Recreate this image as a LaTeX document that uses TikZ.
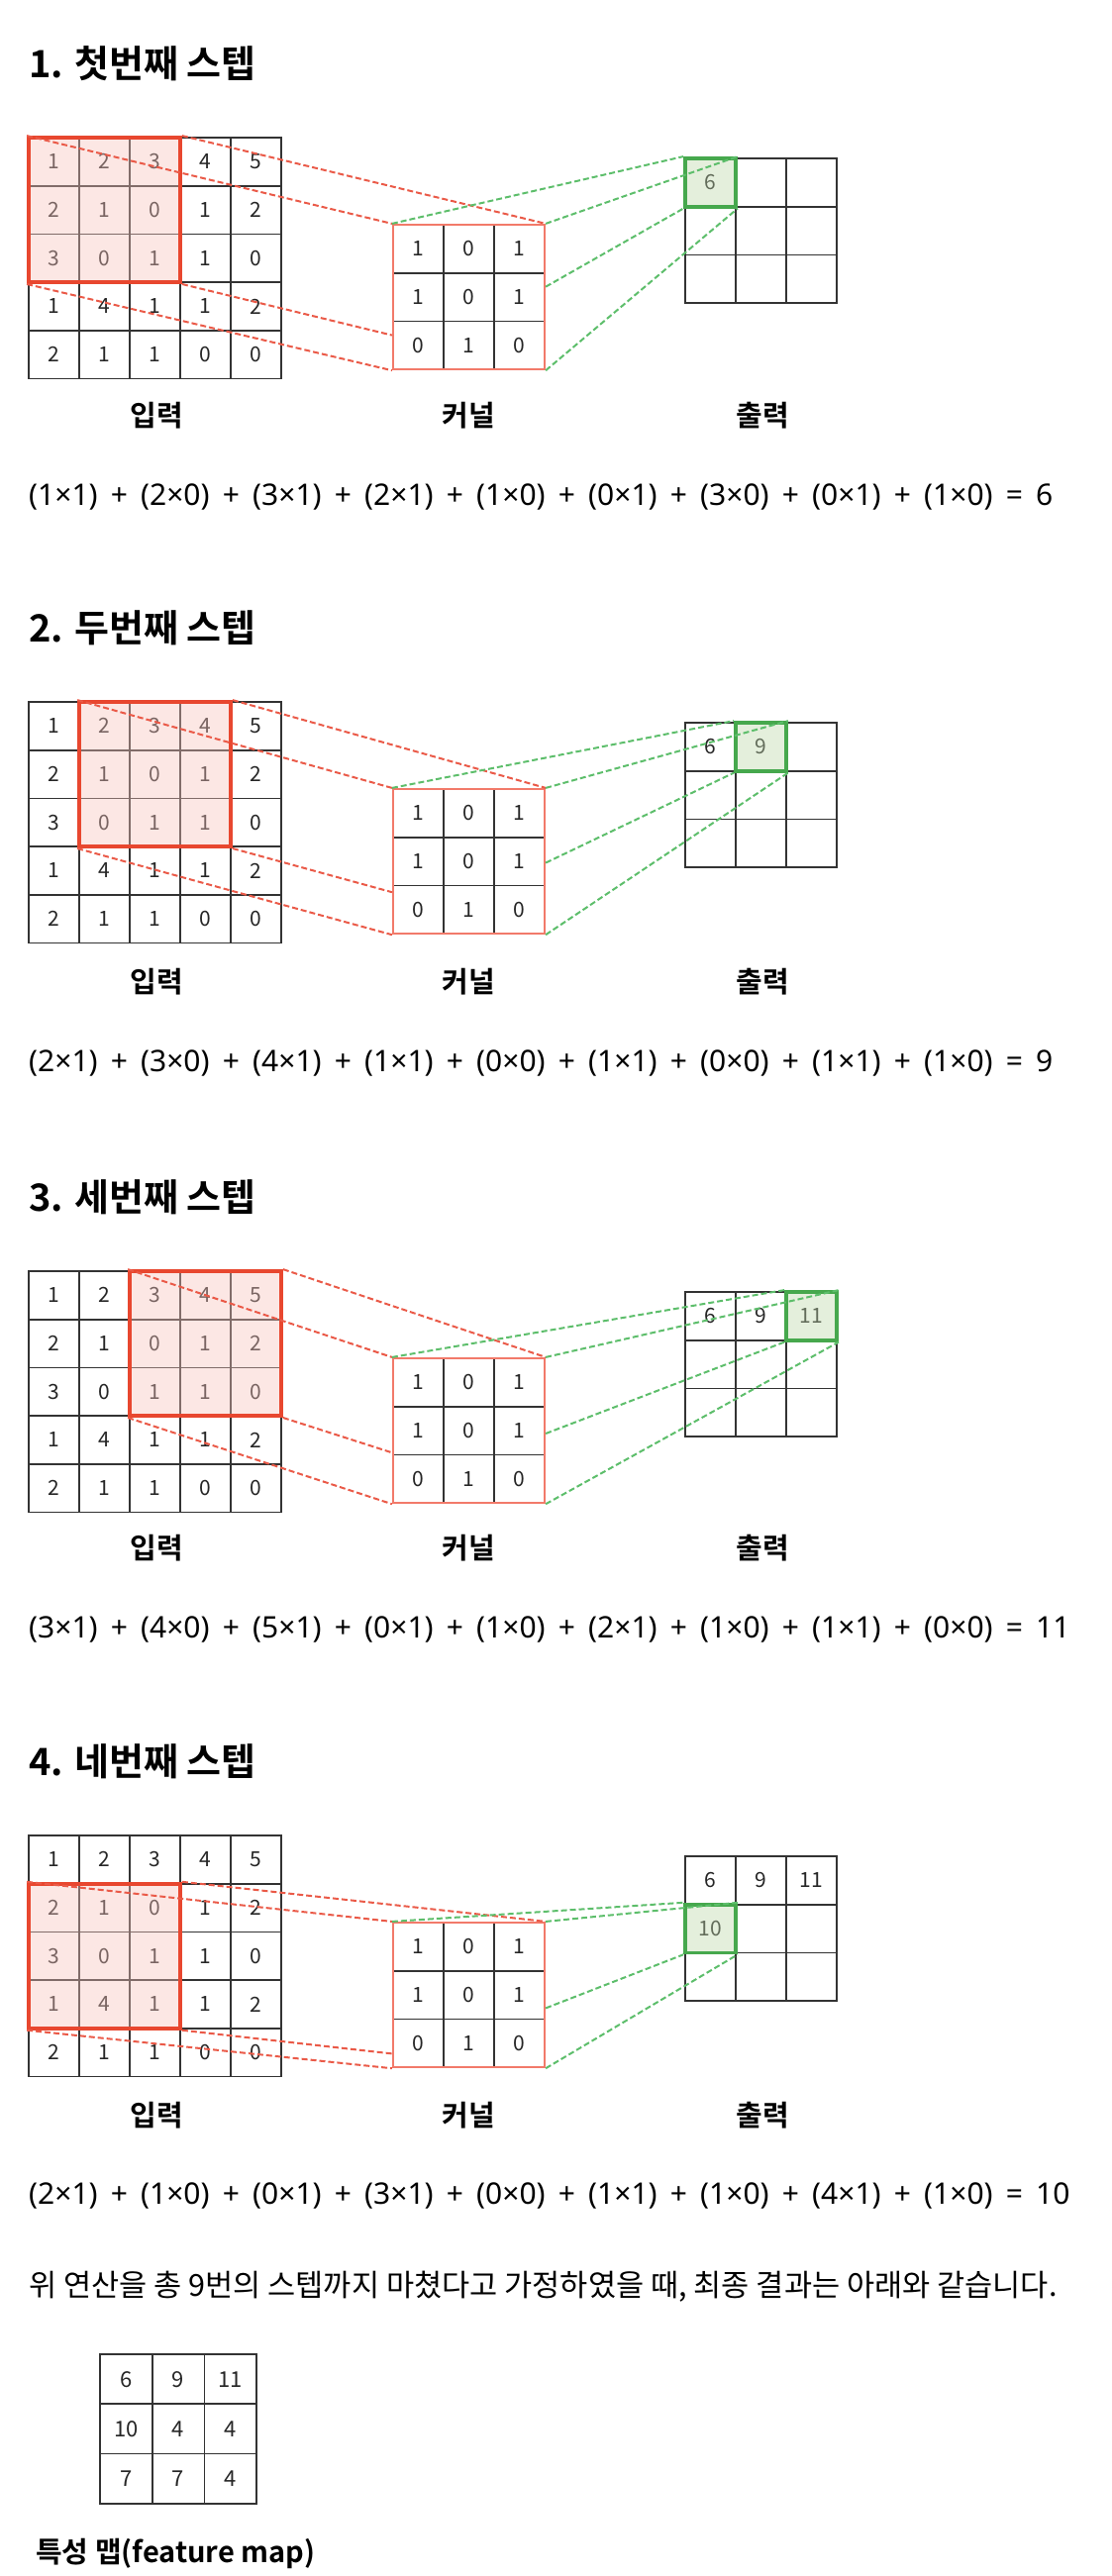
\documentclass[tikz,border=0pt]{standalone}
\usepackage{fontspec}
\setmainfont{Noto Sans CJK KR}[BoldFont={Noto Sans CJK KR Bold}]
\newfontfamily\eqfont{Noto Sans}[WordSpace=1.69]
\usetikzlibrary{calc,fit}

\definecolor{gridline}{HTML}{333333}
\definecolor{hlred}{HTML}{E8472F}
\definecolor{hlredfill}{HTML}{F7C3BC}
\definecolor{dashred}{HTML}{EA5A48}
\definecolor{kernred}{HTML}{F27A6A}
\definecolor{hlgreen}{HTML}{46A84D}
\definecolor{hlgreenfill}{HTML}{BCD6A8}
\definecolor{dashgreen}{HTML}{5DBE6B}

% 5x5 input, 3x3 kernel, empty 3x3 output
\newcommand{\inputgrid}[1]{%
  \foreach \v [count=\i from 0] in {1,2,3,4,5,2,1,0,1,2,3,0,1,1,0,1,4,1,1,2,2,1,1,0,0}{%
    \pgfmathtruncatemacro{\cc}{mod(\i,5)}%
    \pgfmathtruncatemacro{\rr}{div(\i,5)}%
    \node[cell] (#1in-\rr-\cc) at ({54.5+51*\cc},{24.35+48.7*\rr}) {\v};
  }%
}
\newcommand{\kernelgrid}[1]{%
  \foreach \v [count=\i from 0] in {1,0,1,1,0,1,0,1,0}{%
    \pgfmathtruncatemacro{\cc}{mod(\i,3)}%
    \pgfmathtruncatemacro{\rr}{div(\i,3)}%
    \node[cell] (#1kc-\rr-\cc) at ({422.5+51*\cc},{112.35+48.7*\rr}) {\v};
  }%
  \node[kernbox, fit=(#1kc-0-0)(#1kc-2-2)] (#1k) {};
}
\newcommand{\outputgrid}[1]{%
  \foreach \rr in {0,1,2}{%
    \foreach \cc in {0,1,2}{%
      \node[cell] (#1out-\rr-\cc) at ({717.5+51*\cc},{45.35+48.7*\rr}) {};
    }%
  }%
}

\begin{document}
\begin{tikzpicture}[x=1pt, y=-1pt,
    cell/.style={draw=gridline, line width=1.7pt, minimum width=51pt, minimum height=48.7pt,
      inner sep=0pt, outer sep=0pt, font=\fontsize{21}{25}\selectfont, text=black!85},
    val/.style={inner sep=0pt, font=\fontsize{21}{25}\selectfont, text=black!85},
    redbox/.style={draw=hlred, line width=3.8pt, fill=hlredfill, fill opacity=0.4, inner sep=0pt},
    greenbox/.style={draw=hlgreen, line width=3.8pt, fill=hlgreenfill, fill opacity=0.4, inner sep=0pt},
    kernbox/.style={draw=kernred, line width=2.2pt, inner sep=0pt},
    reddash/.style={draw=dashred, line width=2pt, dash pattern=on 6pt off 3pt},
    greendash/.style={draw=dashgreen, line width=2pt, dash pattern=on 6pt off 3pt},
    steptitle/.style={anchor=west, inner sep=0pt, font=\fontsize{38}{44}\selectfont\bfseries},
    gridname/.style={inner sep=0pt, font=\fontsize{29}{34}\selectfont\bfseries},
    eqtext/.style={anchor=west, inner sep=0pt, font=\eqfont\fontsize{30}{36}\selectfont},
    bodytext/.style={anchor=west, inner sep=0pt, font=\fontsize{30.6}{36}\selectfont}]
  \useasboundingbox (0,0) rectangle (1122,2602);

  % step 1
  \begin{scope}[shift={(0,139)}]
    \node[steptitle] (s1title) at (29,-75) {1. 첫번째 스텝};
    \inputgrid{s1}
    \outputgrid{s1}
    \node[val] (s1v1) at (s1out-0-0) {6};
    \node[redbox, fit=(s1in-0-0)(s1in-2-2)] (s1hl) {};
    \node[greenbox, fit=(s1out-0-0)] (s1oc) {};
    \kernelgrid{s1}
    \coordinate (s1kl) at ($(s1k.north west)!0.76!(s1k.south west)$);
    \coordinate (s1kr) at ($(s1k.north east)!0.43!(s1k.south east)$);
    \path[reddash] (s1hl.north west) edge (s1k.north west)
      (s1hl.north east) edge (s1k.north east)
      (s1hl.south west) edge (s1k.south west)
      (s1hl.south east) edge (s1kl);
    \path[greendash] (s1k.north west) edge (s1oc.north west)
      (s1k.north east) edge (s1oc.north east)
      (s1kr) edge (s1oc.south west)
      (s1k.south east) edge (s1oc.south east);
    \node[gridname] (s1nin) at (158,281) {입력};
    \node[gridname] (s1nk) at (473.5,281) {커널};
    \node[gridname] (s1nout) at (770,281) {출력};
    \node[eqtext] (s1eq) at (29,363) {(1×1) + (2×0) + (3×1) + (2×1) + (1×0) + (0×1) + (3×0) + (0×1) + (1×0) = 6};
  \end{scope}

  % step 2
  \begin{scope}[shift={(0,709)}]
    \node[steptitle] (s2title) at (29,-75) {2. 두번째 스텝};
    \inputgrid{s2}
    \outputgrid{s2}
    \node[val] (s2v1) at (s2out-0-0) {6};
    \node[val] (s2v2) at (s2out-0-1) {9};
    \node[redbox, fit=(s2in-0-1)(s2in-2-3)] (s2hl) {};
    \node[greenbox, fit=(s2out-0-1)] (s2oc) {};
    \kernelgrid{s2}
    \coordinate (s2kl) at ($(s2k.north west)!0.71!(s2k.south west)$);
    \coordinate (s2kr) at ($(s2k.north east)!0.51!(s2k.south east)$);
    \path[reddash] (s2hl.north west) edge (s2k.north west)
      (s2hl.north east) edge (s2k.north east)
      (s2hl.south west) edge (s2k.south west)
      (s2hl.south east) edge (s2kl);
    \path[greendash] (s2k.north west) edge (s2oc.north west)
      (s2k.north east) edge (s2oc.north east)
      (s2kr) edge (s2oc.south west)
      (s2k.south east) edge (s2oc.south east);
    \node[gridname] (s2nin) at (158,283) {입력};
    \node[gridname] (s2nk) at (473.5,283) {커널};
    \node[gridname] (s2nout) at (770,283) {출력};
    \node[eqtext] (s2eq) at (29,365) {(2×1) + (3×0) + (4×1) + (1×1) + (0×0) + (1×1) + (0×0) + (1×1) + (1×0) = 9};
  \end{scope}

  % step 3
  \begin{scope}[shift={(0,1284)}]
    \node[steptitle] (s3title) at (29,-75) {3. 세번째 스텝};
    \inputgrid{s3}
    \outputgrid{s3}
    \node[val] (s3v1) at (s3out-0-0) {6};
    \node[val] (s3v2) at (s3out-0-1) {9};
    \node[val] (s3v3) at (s3out-0-2) {11};
    \node[redbox, fit=(s3in-0-2)(s3in-2-4)] (s3hl) {};
    \node[greenbox, fit=(s3out-0-2)] (s3oc) {};
    \kernelgrid{s3}
    \coordinate (s3kl) at ($(s3k.north west)!0.65!(s3k.south west)$);
    \coordinate (s3kr) at ($(s3k.north east)!0.52!(s3k.south east)$);
    \path[reddash] (s3hl.north west) edge (s3k.north west)
      (s3hl.north east) edge (s3k.north east)
      (s3hl.south west) edge (s3k.south west)
      (s3hl.south east) edge (s3kl);
    \path[greendash] (s3k.north west) edge (s3oc.north west)
      (s3k.north east) edge (s3oc.north east)
      (s3kr) edge (s3oc.south west)
      (s3k.south east) edge (s3oc.south east);
    \node[gridname] (s3nin) at (158,280) {입력};
    \node[gridname] (s3nk) at (473.5,280) {커널};
    \node[gridname] (s3nout) at (770,280) {출력};
    \node[eqtext] (s3eq) at (29,362) {(3×1) + (4×0) + (5×1) + (0×1) + (1×0) + (2×1) + (1×0) + (1×1) + (0×0) = 11};
  \end{scope}

  % step 4
  \begin{scope}[shift={(0,1854)}]
    \node[steptitle] (s4title) at (29,-75) {4. 네번째 스텝};
    \inputgrid{s4}
    \outputgrid{s4}
    \node[val] (s4v1) at (s4out-0-0) {6};
    \node[val] (s4v2) at (s4out-0-1) {9};
    \node[val] (s4v3) at (s4out-0-2) {11};
    \node[val] (s4v4) at (s4out-1-0) {10};
    \node[redbox, fit=(s4in-1-0)(s4in-3-2)] (s4hl) {};
    \node[greenbox, fit=(s4out-1-0)] (s4oc) {};
    \kernelgrid{s4}
    \coordinate (s4kl) at ($(s4k.north west)!0.9!(s4k.south west)$);
    \coordinate (s4kr) at ($(s4k.north east)!0.59!(s4k.south east)$);
    \path[reddash] (s4hl.north west) edge (s4k.north west)
      (s4hl.north east) edge (s4k.north east)
      (s4hl.south west) edge (s4k.south west)
      (s4hl.south east) edge (s4kl);
    \path[greendash] (s4k.north west) edge (s4oc.north west)
      (s4k.north east) edge (s4oc.north east)
      (s4kr) edge (s4oc.south west)
      (s4k.south east) edge (s4oc.south east);
    \node[gridname] (s4nin) at (158,283) {입력};
    \node[gridname] (s4nk) at (473.5,283) {커널};
    \node[gridname] (s4nout) at (770,283) {출력};
    \node[eqtext] (s4eq) at (29,364) {(2×1) + (1×0) + (0×1) + (3×1) + (0×0) + (1×1) + (1×0) + (4×1) + (1×0) = 10};
  \end{scope}

  % result
  \node[bodytext] (summary) at (29,2310) {위 연산을 총 9번의 스텝까지 마쳤다고 가정하였을 때, 최종 결과는 아래와 같습니다.};
  \foreach \v [count=\i from 0] in {6,9,11,10,4,4,7,7,4}{
    \pgfmathtruncatemacro{\cc}{mod(\i,3)}
    \pgfmathtruncatemacro{\rr}{div(\i,3)}
    \node[cell, minimum width=52.7pt, minimum height=50.3pt, font=\fontsize{22}{26}\selectfont] (fm-\rr-\cc) at ({127.35+52.7*\cc},{2403.15+50.3*\rr}) {\v};
  }
  \node[gridname, anchor=west] (fmname) at (36,2579) {특성 맵(feature map)};
\end{tikzpicture}
\end{document}
